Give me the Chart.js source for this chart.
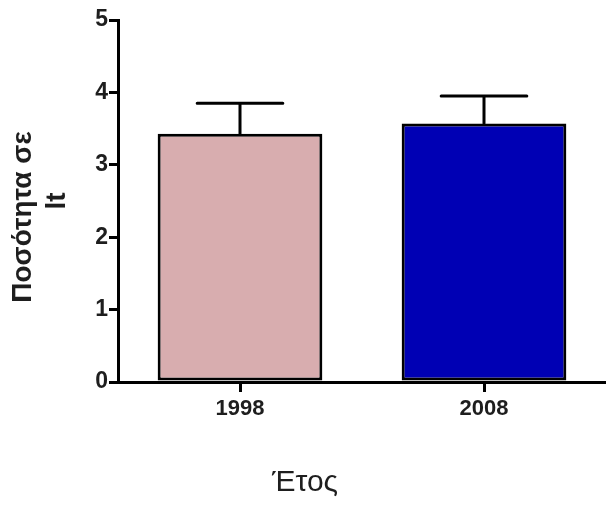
<!DOCTYPE html>
<html>
<head>
<meta charset="utf-8">
<script src="https://cdn.jsdelivr.net/npm/chart.js@4"></script>
<style>
  html, body { margin: 0; padding: 0; background: #fff; }
  #wrap { width: 606px; height: 511px; }
</style>
</head>
<body>
<div id="wrap"><canvas id="chart"></canvas></div>
<script>
// Mean amount per year with upper error bars
const years = ["1998", "2008"];
const means = [3.43, 3.57];
const upper = [3.85, 3.95];
const barColors = ["#d8adaf", "#0000b4"];
const yTicks = [0, 1, 2, 3, 4, 5];
const yTitle = ["Ποσότητα σε", "lt"];

const FONT = "'Liberation Sans', Arial, sans-serif";

// draws the vertical whisker and cap above each bar
const errorBars = {
  id: "errorBars",
  afterDatasetsDraw(chart) {
    const ctx = chart.ctx;
    const y = chart.scales.y;
    const meta = chart.getDatasetMeta(0);
    ctx.save();
    ctx.strokeStyle = "#000";
    ctx.lineWidth = 3;
    ctx.lineCap = "round";
    meta.data.forEach((bar, i) => {
      const top = y.getPixelForValue(upper[i]);
      const base = y.getPixelForValue(means[i]);
      const half = bar.width * 0.26;
      ctx.beginPath();
      ctx.moveTo(bar.x, base);
      ctx.lineTo(bar.x, top);
      ctx.moveTo(bar.x - half, top);
      ctx.lineTo(bar.x + half, top);
      ctx.stroke();
    });
    ctx.restore();
  }
};

// rotated two-line y title, each line centred on its own
const yAxisTitle = {
  id: "yAxisTitle",
  afterDraw(chart) {
    const ctx = chart.ctx;
    const mid = (chart.chartArea.top + chart.chartArea.bottom) / 2;
    const spots = [[23, mid + 16], [57, mid]];
    ctx.save();
    ctx.fillStyle = "#1e1e1e";
    ctx.font = "bold 28px " + FONT;
    ctx.textAlign = "center";
    ctx.textBaseline = "middle";
    yTitle.forEach((line, i) => {
      ctx.save();
      ctx.translate(spots[i][0], spots[i][1]);
      ctx.rotate(-Math.PI / 2);
      ctx.fillText(line, 0, 0);
      ctx.restore();
    });
    ctx.restore();
  }
};

new Chart(document.getElementById("chart"), {
  type: "bar",
  data: {
    labels: years,
    datasets: [{
      data: means,
      backgroundColor: barColors,
      borderColor: "#000",
      borderWidth: 3,
      borderSkipped: false,
      barPercentage: 0.675,
      categoryPercentage: 1
    }]
  },
  options: {
    responsive: true,
    maintainAspectRatio: false,
    animation: false,
    layout: { padding: { top: 20, right: -4, left: 0, bottom: 10 } },
    plugins: {
      legend: { display: false },
      tooltip: { enabled: false },
      title: {
        display: true,
        position: "bottom",
        text: "Έτος",
        color: "#1e1e1e",
        font: { family: FONT, size: 30, weight: "normal" },
        padding: { top: 24, bottom: 0 }
      }
    },
    scales: {
      x: {
        afterFit(scale) { scale.height = 59; },
        grid: {
          display: true,
          drawOnChartArea: false,
          offset: false,
          color: "#000",
          lineWidth: 3,
          tickLength: 10
        },
        border: { display: true, color: "#000", width: 3 },
        ticks: {
          color: "#1e1e1e",
          font: { family: FONT, size: 22, weight: "bold" },
          padding: 4
        }
      },
      y: {
        min: 0,
        max: 5,
        afterFit(scale) { scale.width = 118; },
        afterBuildTicks(scale) {
          scale.ticks = yTicks.map(v => ({ value: v }));
        },
        grid: {
          display: true,
          drawOnChartArea: false,
          color: "#000",
          lineWidth: 3,
          tickLength: 9
        },
        border: { display: true, color: "#000", width: 3 },
        ticks: {
          color: "#1e1e1e",
          font: { family: FONT, size: 23, weight: "bold" },
          padding: 1
        }
      }
    }
  },
  plugins: [errorBars, yAxisTitle]
});
</script>
</body>
</html>
